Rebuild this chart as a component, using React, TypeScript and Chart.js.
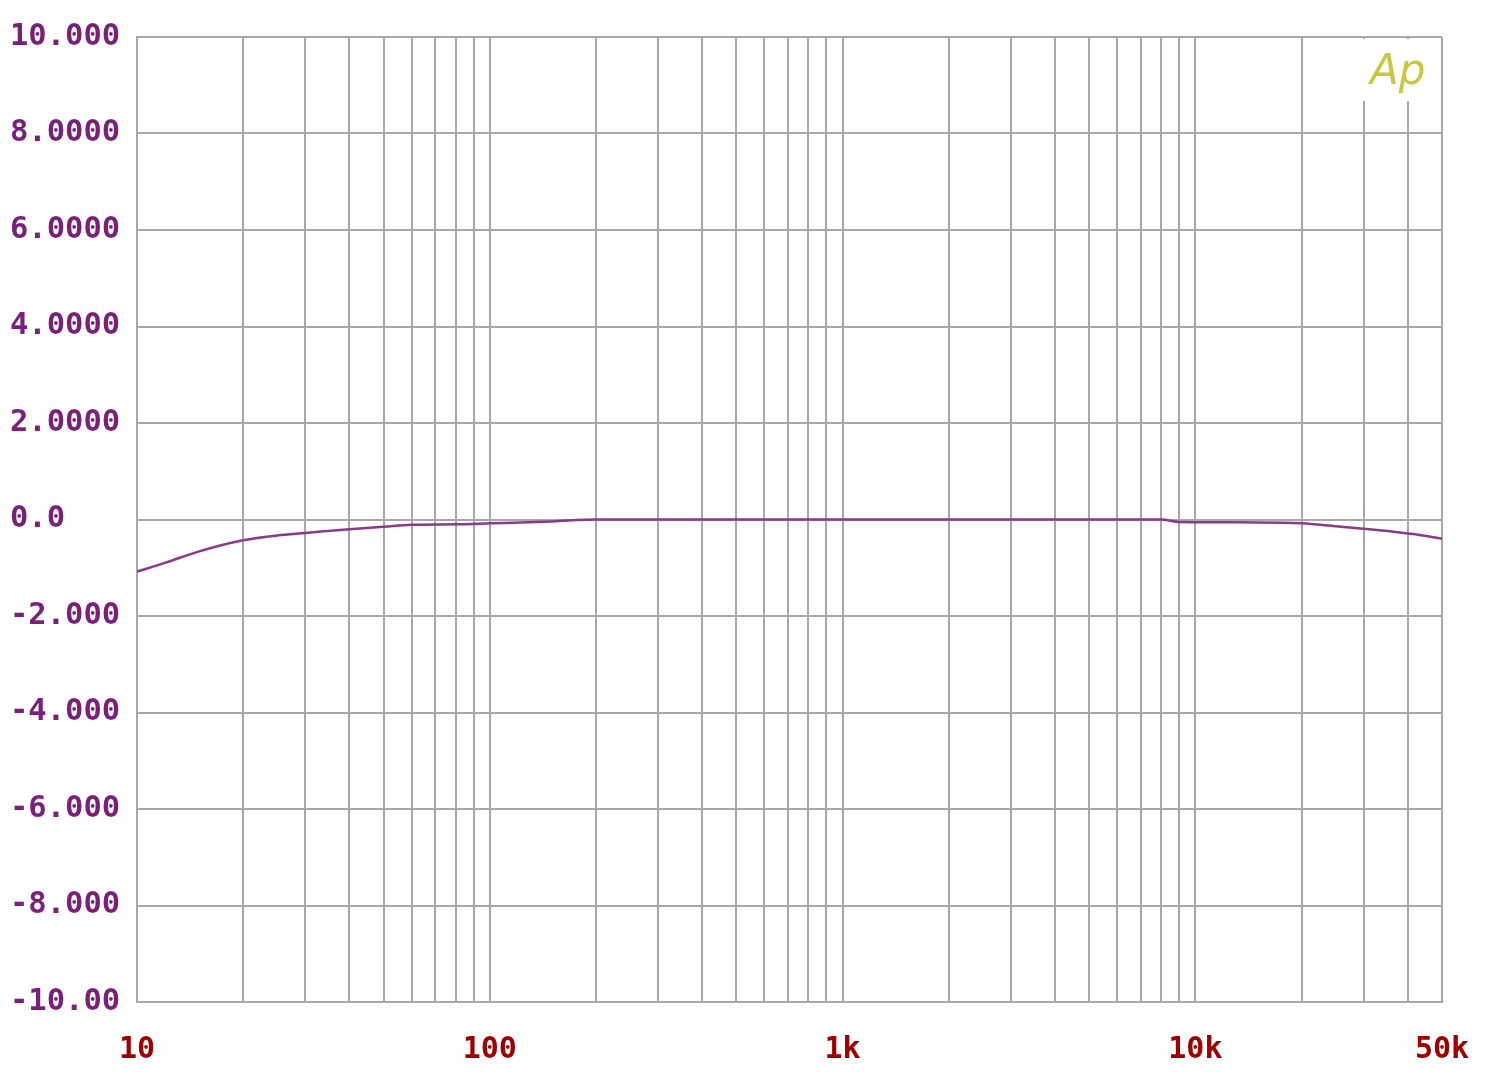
import React, { useEffect, useRef } from "react";
import { Chart, registerables } from "chart.js";

Chart.register(...registerables);

const freqs = [10, 12, 15, 20, 25, 30, 40, 50, 60, 80, 100, 150, 200, 300, 500, 1000, 2000, 5000, 8000, 9000, 15000, 20000, 25000, 30000, 35000, 40000, 45000, 50000];
const levels = [-1.08, -0.9, -0.66, -0.43, -0.33, -0.28, -0.2, -0.15, -0.11, -0.1, -0.08, -0.04, 0, 0, 0, 0, 0, 0, 0, -0.05, -0.06, -0.08, -0.14, -0.19, -0.24, -0.29, -0.34, -0.4];

const gridFreqs = [10, 20, 30, 40, 50, 60, 70, 80, 90, 100, 200, 300, 400, 500, 600, 700, 800, 900, 1000, 2000, 3000, 4000, 5000, 6000, 7000, 8000, 9000, 10000, 20000, 30000, 40000, 50000];
const xLabelValues = [10, 100, 1000, 10000, 50000];
const xLabelTexts = ["10", "100", "1k", "10k", "50k"];

const yTickValues = [-10, -8, -6, -4, -2, 0, 2, 4, 6, 8, 10];
const yTickTexts = ["-10.00", "-8.000", "-6.000", "-4.000", "-2.000", "0.0", "2.0000", "4.0000", "6.0000", "8.0000", "10.000"];

const logoText = "Ap";

export default function App() {
  const ref = useRef<HTMLCanvasElement | null>(null);

  useEffect(() => {
    document.body.style.margin = "0";
    const canvas = ref.current;
    if (!canvas) return;

    const logoPlugin = {
      id: "apLogo",
      afterDraw(chart: any) {
        const ctx = chart.ctx;
        ctx.save();
        ctx.fillStyle = "#ffffff";
        ctx.fillRect(1360, 39, 72, 62);
        ctx.fillStyle = "#c8c83a";
        ctx.font = "italic 300 42px 'DejaVu Sans'";
        ctx.textBaseline = "alphabetic";
        ctx.textAlign = "left";
        ctx.fillText(logoText, 1370, 84);
        ctx.restore();
      },
    };

    const chart = new Chart(canvas, {
      type: "line",
      data: {
        datasets: [
          {
            data: freqs.map((f, i) => ({ x: f, y: levels[i] })),
            borderColor: "#8b3a8b",
            borderWidth: 2.5,
            pointRadius: 0,
            cubicInterpolationMode: "monotone",
            fill: false,
          },
        ],
      },
      options: {
        animation: false,
        responsive: false,
        maintainAspectRatio: false,
        layout: { padding: { left: 10, right: 58, top: 37, bottom: 0 } },
        plugins: { legend: { display: false }, tooltip: { enabled: false } },
        scales: {
          x: {
            type: "logarithmic",
            min: 10,
            max: 50000,
            afterBuildTicks: (scale: any) => {
              scale.ticks = gridFreqs.map((v) => ({ value: v }));
            },
            afterFit: (scale: any) => {
              scale.height = 70;
            },
            grid: { color: "#a8a8a8", lineWidth: 2, drawTicks: false },
            border: { color: "#a8a8a8", width: 2 },
            ticks: {
              autoSkip: false,
              maxRotation: 0,
              padding: 30,
              color: "#a00000",
              font: { family: "'DejaVu Sans Mono'", size: 30, weight: "bold" },
              callback: (value: any) => {
                const idx = xLabelValues.indexOf(Number(value));
                return idx >= 0 ? xLabelTexts[idx] : "";
              },
            },
          },
          y: {
            type: "linear",
            min: -10,
            max: 10,
            afterBuildTicks: (scale: any) => {
              scale.ticks = yTickValues.map((v) => ({ value: v }));
            },
            afterFit: (scale: any) => {
              scale.width = 127;
            },
            grid: { color: "#a8a8a8", lineWidth: 2, drawTicks: false },
            border: { color: "#a8a8a8", width: 2 },
            ticks: {
              crossAlign: "far",
              padding: 0,
              color: "#7a1f7a",
              font: { family: "'DejaVu Sans Mono'", size: 30.5, weight: "bold" },
              callback: (value: any) => {
                const idx = yTickValues.indexOf(Number(value));
                return idx >= 0 ? yTickTexts[idx] : "";
              },
            },
          },
        },
      },
      plugins: [logoPlugin],
    } as any);

    return () => chart.destroy();
  }, []);

  return (
    <div style={{ width: 1500, height: 1072 }}>
      <canvas ref={ref} width={1500} height={1072} style={{ display: "block" }} />
    </div>
  );
}
